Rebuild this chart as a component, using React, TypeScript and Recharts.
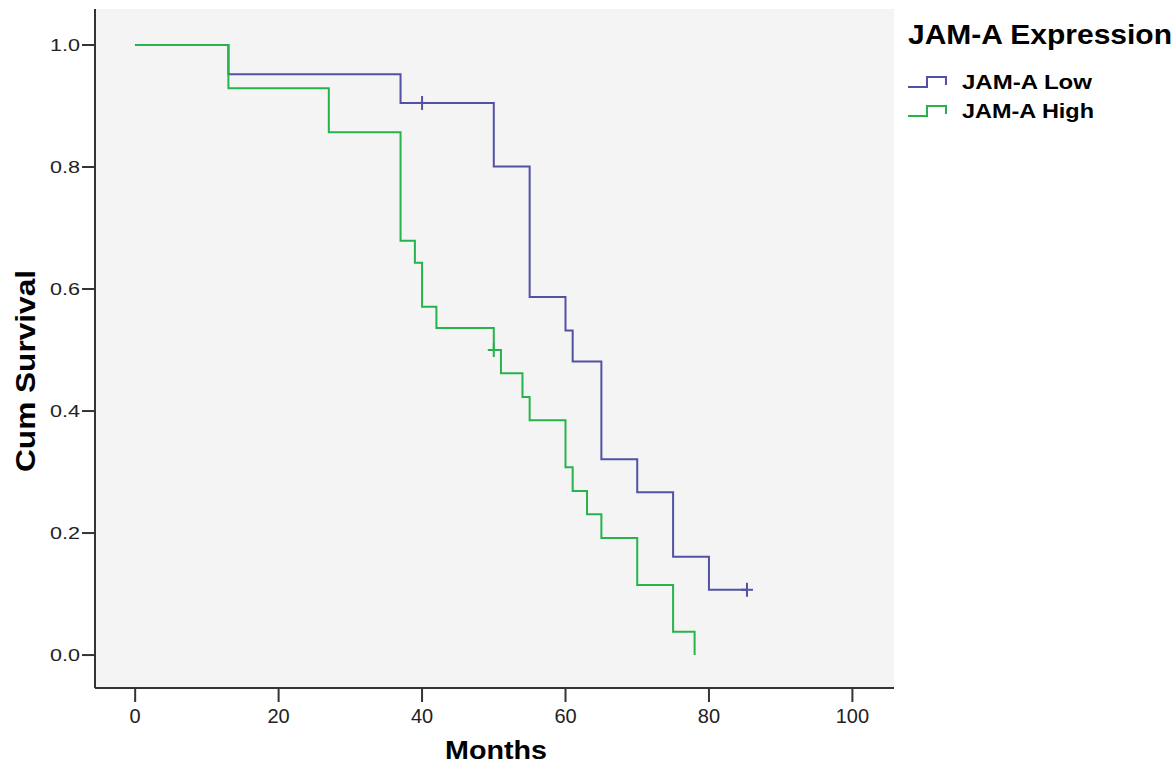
import { ComposedChart, Line, Scatter, XAxis, YAxis, CartesianGrid } from 'recharts';

// Kaplan-Meier steps
const lowMonths = [0, 13, 37, 50, 55, 60, 61, 65, 70, 75, 80, 85.3];
const lowSurvival = [1.0, 0.952, 0.905, 0.801, 0.587, 0.532, 0.481, 0.321, 0.267, 0.161, 0.107, 0.107];
const highMonths = [0, 13, 27, 37, 39, 40, 42, 50, 51, 54, 55, 60, 61, 63, 65, 70, 75, 78];
const highSurvival = [1.0, 0.929, 0.857, 0.679, 0.643, 0.571, 0.536, 0.5, 0.462, 0.423, 0.385, 0.308, 0.269, 0.231, 0.192, 0.115, 0.038, 0];

// censored cases
const lowCensorMonths = [40, 85.3];
const lowCensorSurvival = [0.905, 0.107];
const highCensorMonths = [50];
const highCensorSurvival = [0.5];

const xTicks = [0, 20, 40, 60, 80, 100];
const yTicks = [0, 0.2, 0.4, 0.6, 0.8, 1.0];

const LOW_COLOR = '#5151a5';
const HIGH_COLOR = '#26b34b';
const FONT = '"Liberation Sans", Arial, sans-serif';

const toRows = (xs: number[], ys: number[]) => xs.map((m, i) => ({ month: m, survival: ys[i] }));

const lowData = toRows(lowMonths, lowSurvival);
const highData = toRows(highMonths, highSurvival);
const lowCensor = toRows(lowCensorMonths, lowCensorSurvival);
const highCensor = toRows(highCensorMonths, highCensorSurvival);

const Cross = (color: string) => (props: any) => {
  const { cx, cy } = props;
  return (
    <g stroke={color} strokeWidth={2}>
      <line x1={cx - 6} y1={cy} x2={cx + 6} y2={cy} />
      <line x1={cx} y1={cy - 7} x2={cx} y2={cy + 7} />
    </g>
  );
};

const XTick = (props: any) => {
  const { x, y, payload } = props;
  return (
    <text x={x} y={y} dy={21} textAnchor="middle" fontSize={20} fontFamily={FONT} fill="#222">
      {payload.value}
    </text>
  );
};

const YTick = (props: any) => {
  const { x, y, payload } = props;
  return (
    <text x={x} y={y} dy={6} textAnchor="end" fontSize={16} fontFamily={FONT} fill="#222"
      textLength={30} lengthAdjust="spacingAndGlyphs">
      {Number(payload.value).toFixed(1)}
    </text>
  );
};

const StepIcon = ({ x, y, color }: { x: number; y: number; color: string }) => (
  <path d={`M${x},${y + 10} H${x + 19} V${y} H${x + 38} V${y + 8}`} fill="none" stroke={color} strokeWidth={2} />
);

export default function App() {
  return (
    <div style={{ position: 'absolute', left: 0, top: 0, width: 1176, height: 766, background: '#fff' }}>
      <ComposedChart width={1176} height={766} margin={{ top: 9, right: 282, bottom: 0, left: 0 }}>
        <CartesianGrid fill="#f4f4f4" horizontal={false} vertical={false} />
        <XAxis
          dataKey="month"
          type="number"
          domain={[-5.6, 105.8]}
          ticks={xTicks}
          allowDataOverflow
          height={78}
          tickSize={14}
          tickMargin={0}
          tick={<XTick />}
          axisLine={{ stroke: '#333', strokeWidth: 2 }}
          tickLine={{ stroke: '#333', strokeWidth: 2 }}
        />
        <XAxis xAxisId="top" orientation="top" type="number" domain={[-5.6, 105.8]} height={0}
          tick={false} tickLine={false} axisLine={{ stroke: '#444', strokeWidth: 2 }} />
        <YAxis
          type="number"
          domain={[-0.054, 1.059]}
          ticks={yTicks}
          allowDataOverflow
          width={95}
          tickSize={13}
          tickMargin={2}
          tick={<YTick />}
          axisLine={{ stroke: '#333', strokeWidth: 2 }}
          tickLine={{ stroke: '#333', strokeWidth: 2 }}
        />
        <YAxis yAxisId="right" orientation="right" type="number" domain={[-0.054, 1.059]} width={0}
          tick={false} tickLine={false} axisLine={{ stroke: '#444', strokeWidth: 2 }} />
        <Line data={lowData} dataKey="survival" type="stepAfter" stroke={LOW_COLOR} strokeWidth={2}
          dot={false} activeDot={false} isAnimationActive={false} />
        <Line data={highData} dataKey="survival" type="stepAfter" stroke={HIGH_COLOR} strokeWidth={2}
          dot={false} activeDot={false} isAnimationActive={false} />
        <Scatter data={lowCensor} dataKey="survival" shape={Cross(LOW_COLOR)} isAnimationActive={false} />
        <Scatter data={highCensor} dataKey="survival" shape={Cross(HIGH_COLOR)} isAnimationActive={false} />
      </ComposedChart>
      <svg width={1176} height={766} style={{ position: 'absolute', left: 0, top: 0, pointerEvents: 'none' }}>
        <text transform="translate(35,371) rotate(-90)" textAnchor="middle" fontSize={28} fontWeight="bold"
          fontFamily={FONT} textLength={202} lengthAdjust="spacingAndGlyphs">Cum Survival</text>
        <text x={496} y={759} textAnchor="middle" fontSize={26} fontWeight="bold" fontFamily={FONT}
          textLength={102} lengthAdjust="spacingAndGlyphs">Months</text>
        <text x={908} y={44} fontSize={28} fontWeight="bold" fontFamily={FONT}
          textLength={264} lengthAdjust="spacingAndGlyphs">JAM-A Expression</text>
        <StepIcon x={908} y={77} color={LOW_COLOR} />
        <text x={962} y={89} fontSize={21} fontWeight="bold" fontFamily={FONT}
          textLength={130} lengthAdjust="spacingAndGlyphs">JAM-A Low</text>
        <StepIcon x={908} y={106} color={HIGH_COLOR} />
        <text x={962} y={118} fontSize={21} fontWeight="bold" fontFamily={FONT}
          textLength={132} lengthAdjust="spacingAndGlyphs">JAM-A High</text>
      </svg>
    </div>
  );
}
